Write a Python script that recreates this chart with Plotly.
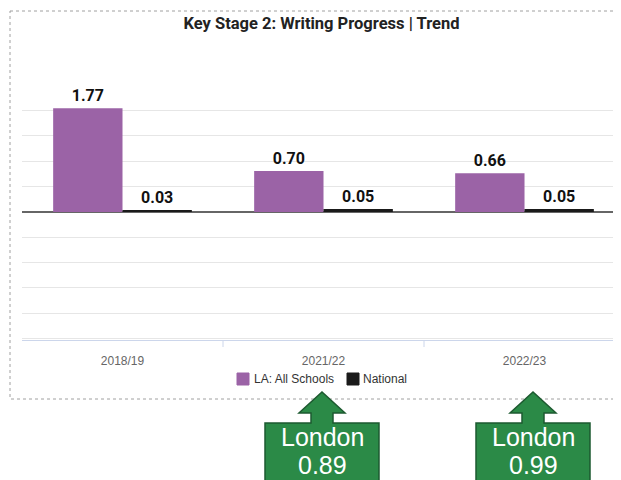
import plotly.graph_objects as go

categories = ["2018/19", "2021/22", "2022/23"]
la_values = [1.77, 0.70, 0.66]
national_values = [0.03, 0.05, 0.05]
series_names = ["LA: All Schools", "National"]
series_colors = ["#9b63a6", "#1a1a1a"]
london_labels = ["London", "London"]
london_values = [0.89, 0.99]
title_text = "Key Stage 2: Writing Progress | Trend"

OFF = 8  # page body margin
W, H = 621 - OFF, 480 - OFF
ML, MR, MT, MB = 22 - OFF, 0, 85 - OFF, 480 - 340
PW, PH = W - ML - MR, H - MT - MB


def px(x):
    return (x - OFF - ML) / PW


def py(y):
    return (H - MB - (y - OFF)) / PH


LABEL_FONT = "Roboto, sans-serif"
PLAIN_FONT = "Liberation Sans, Arial, sans-serif"

fig = go.Figure()
for name, color, vals in zip(series_names, series_colors, [la_values, national_values]):
    fig.add_trace(go.Bar(
        name=name, x=categories, y=vals,
        marker=dict(color=color, line=dict(width=0)),
        texttemplate="%{y:.2f}", textposition="outside", cliponaxis=False,
        textfont=dict(family=LABEL_FONT, size=16, color="#111", weight="bold"),
    ))

shapes = []
shapes.append(dict(type="rect", xref="paper", yref="paper",
                   x0=px(10), x1=px(640), y0=py(11), y1=py(399),
                   line=dict(color="#a0a0a0", width=1, dash="dot"),
                   fillcolor="rgba(0,0,0,0)", layer="below"))
for b in [0.5, 1.5]:
    shapes.append(dict(type="line", xref="x", yref="paper", x0=b, x1=b,
                       y0=0, y1=-7 / PH, line=dict(color="#ccd6eb", width=1)))

annotations = []
# compact legend
legend_sq_x = [237, 347]
legend_txt_x = [252, 361]
for sx, tx, name, color in zip(legend_sq_x, legend_txt_x, series_names, series_colors):
    shapes.append(dict(type="rect", xref="paper", yref="paper",
                       x0=px(sx), x1=px(sx + 12), y0=py(385), y1=py(373),
                       fillcolor=color, line=dict(color=color, width=1)))
    annotations.append(dict(xref="paper", yref="paper", x=px(tx), y=py(379), text=name,
                            showarrow=False, xanchor="left", yanchor="middle",
                            font=dict(family=PLAIN_FONT, size=12, color="#333")))


def arrow_box(cx, top, half_w):
    pts = [(cx - half_w, top), (cx - 11, top), (cx - 11, top - 10), (cx - 23, top - 10),
           (cx, top - 31), (cx + 23, top - 10), (cx + 11, top - 10), (cx + 11, top),
           (cx + half_w, top), (cx + half_w, 490), (cx - half_w, 490)]
    d = "M " + " L ".join(f"{px(x):.5f},{py(y):.5f}" for x, y in pts) + " Z"
    return dict(type="path", xref="paper", yref="paper", path=d,
                fillcolor="#2b8a47", line=dict(color="#1d5a30", width=1.5))


box_centers = [322, 533]
for c in box_centers:
    shapes.append(arrow_box(c, 423, 57))

for c, lab, v in zip(box_centers, london_labels, london_values):
    annotations.append(dict(xref="paper", yref="paper", x=px(c), y=py(437), text=lab,
                            showarrow=False, xanchor="center", yanchor="middle",
                            font=dict(family=PLAIN_FONT, size=25, color="white")))
    annotations.append(dict(xref="paper", yref="paper", x=px(c), y=py(465), text=f"{v:.2f}",
                            showarrow=False, xanchor="center", yanchor="middle",
                            font=dict(family=PLAIN_FONT, size=25, color="white")))

fig.update_layout(
    width=W, height=H,
    margin=dict(l=ML, r=MR, t=MT, b=MB, pad=0),
    paper_bgcolor="white", plot_bgcolor="white",
    barmode="group", bargap=0.31, bargroupgap=0,
    title=dict(text=title_text, x=0.5, xref="paper", xanchor="center",
               y=1 - (23 - OFF) / H, yref="container", yanchor="middle",
               font=dict(family=LABEL_FONT, size=16.5, color="#222", weight="bold")),
    xaxis=dict(type="category", range=[-0.5, 2.48], showgrid=False,
               showline=True, linecolor="#ccd6eb", linewidth=1,
               ticks="", ticklabelstandoff=10,
               tickfont=dict(family=PLAIN_FONT, size=12, color="#666")),
    yaxis=dict(range=[-2.185, 2.165], tick0=0, dtick=0.432, showticklabels=False,
               showgrid=True, gridcolor="#e6e6e6", gridwidth=1,
               zeroline=True, zerolinecolor="#666666", zerolinewidth=2),
    showlegend=False,
    shapes=shapes, annotations=annotations,
)

fig.write_html("out.html")
